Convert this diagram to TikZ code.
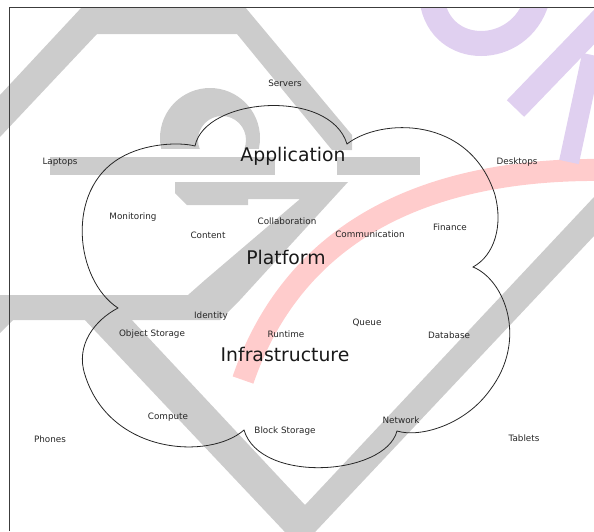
\documentclass[tikz,border=0pt]{standalone}
\usepackage{fontspec}
\setmainfont{DejaVu Sans}
\definecolor{wmgray}{RGB}{204,204,204}
\definecolor{wmpink}{RGB}{255,204,204}
\definecolor{wmpurple}{RGB}{224,208,240}
\definecolor{framecol}{RGB}{60,60,60}
\begin{document}
\begin{tikzpicture}[x=1pt,y=-1pt,
  lbl/.style={inner sep=0pt, text=black!85, font=\fontsize{8.8}{10}\selectfont},
  biglbl/.style={inner sep=0pt, text=black!90, font=\fontsize{18.8}{22}\selectfont},
  cloudline/.style={draw=black!85, line width=0.8pt, line join=miter},
  frameline/.style={draw=framecol, line width=0.9pt}]
\useasboundingbox (0,0) rectangle (594,531);
% watermark (background)
\begin{scope}
\clip (0,7) rectangle (594,531);
\fill[wmgray] (0,95) -- (82,7) -- (245,7) -- (352,135) -- (352,150) -- (332,150) -- (237,34) -- (97,34) -- (0,137) -- cycle;
\begin{scope}
\clip (150,80) rectangle (270,148);
\fill[wmgray,even odd rule] (210,138) circle (50) (222,140) circle (24);
\end{scope}
\fill[wmgray] (50,157) rectangle (275,175);
\fill[wmgray] (337,157) rectangle (420,175);
\fill[wmgray] (0,295) -- (188,295) -- (205,280) -- (300,199) -- (248,199) -- (248,205) -- (187,205) -- (175,193) -- (175,182) -- (348,182) -- (240,300) -- (220,320) -- (0,320) -- cycle;
\fill[wmgray] (83,318) -- (130,318) -- (305,505) -- (594,197) -- (594,236) -- (300,548) -- cycle;
\fill[wmgray] (0,318) -- (15,318) -- (0,333) -- cycle;
\draw[wmpink, line width=22pt] (605,170) .. controls (450,168) and (300,215) .. (243,380);
\draw[wmpurple, line width=25pt] (432,0) .. controls (440,58) and (520,58) .. (537,0);
\draw[wmpurple, line width=24pt] (515.5,108.5) -- (625,-5);
\draw[wmpurple, line width=20pt] (569,162) -- (592,55);
\end{scope}
% frame
\draw[frameline] (9.5,531) -- (9.5,7) -- (594,7);
% cloud
\draw[cloudline] (195,146)
  .. controls (205,97) and (330,88) .. (347,144)
  .. controls (380,118) and (470,115) .. (495,195)
  .. controls (503,225) and (495,255) .. (473,267)
  .. controls (505,280) and (528,340) .. (490,390)
  .. controls (465,425) and (420,438) .. (397,431)
  .. controls (385,476) and (260,484) .. (244,430)
  .. controls (210,460) and (110,455) .. (85,375)
  .. controls (75,345) and (95,320) .. (118,308)
  .. controls (75,280) and (65,190) .. (120,158)
  .. controls (145,143) and (180,142) .. cycle;
% labels
\node[lbl] (servers) at (285,83) {Servers};
\node[lbl] (laptops) at (60,162) {Laptops};
\node[lbl] (desktops) at (517,162) {Desktops};
\node[biglbl] (application) at (293,156) {Application};
\node[lbl] (monitoring) at (133,217) {Monitoring};
\node[lbl] (content) at (208,235) {Content};
\node[lbl] (collab) at (287,221) {Collaboration};
\node[lbl] (comm) at (370,234) {Communication};
\node[lbl] (finance) at (450,227) {Finance};
\node[biglbl] (platform) at (286,257) {Platform};
\node[lbl] (identity) at (211,316) {Identity};
\node[lbl] (objstore) at (152,334) {Object Storage};
\node[lbl] (runtime) at (286,334) {Runtime};
\node[lbl] (queue) at (367,323) {Queue};
\node[lbl] (database) at (449,335) {Database};
\node[biglbl] (infra) at (285,354) {Infrastructure};
\node[lbl] (compute) at (168,417) {Compute};
\node[lbl] (blockstore) at (285,431) {Block Storage};
\node[lbl] (network) at (401,420) {Network};
\node[lbl] (phones) at (50,439) {Phones};
\node[lbl] (tablets) at (524,438) {Tablets};
\end{tikzpicture}
\end{document}
